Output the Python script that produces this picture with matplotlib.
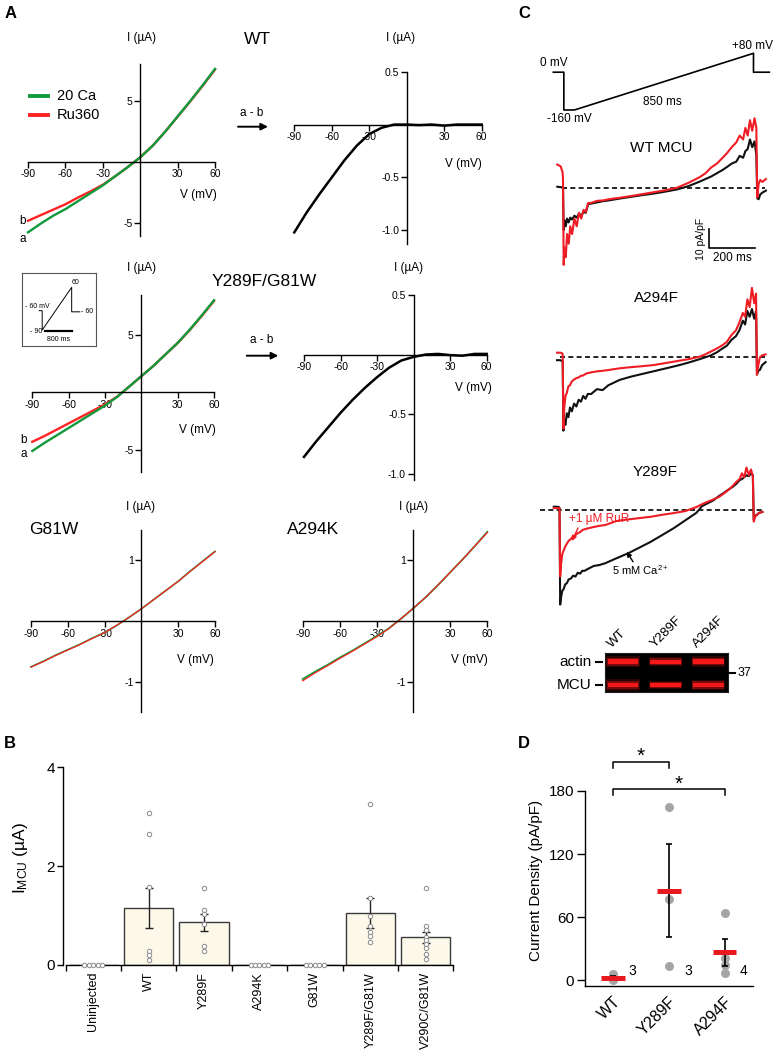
import numpy as np
import matplotlib
matplotlib.use('Agg')
import matplotlib.pyplot as plt
from matplotlib.lines import Line2D
from matplotlib.patches import Rectangle

plt.rcParams['font.family'] = ['Liberation Sans', 'DejaVu Sans']
plt.rcParams['axes.unicode_minus'] = False
plt.rcParams['mathtext.fontset'] = 'custom'
plt.rcParams['mathtext.rm'] = 'Liberation Sans'
plt.rcParams['mathtext.it'] = 'Liberation Sans:italic'
plt.rcParams['mathtext.bf'] = 'Liberation Sans:bold'

# ---------------- data : panel A (I-V ramps, µA) ----------------
V_mV = [-90, -80, -70, -60, -50, -40, -30, -20, -10, 0, 10, 20, 30, 40, 50, 60]
wt_ca = [-5.8, -5.1, -4.45, -3.9, -3.25, -2.6, -1.95, -1.2, -0.45, 0.35, 1.3, 2.45, 3.7, 4.95, 6.25, 7.6]
wt_ru = [-4.85, -4.4, -3.95, -3.5, -2.95, -2.45, -1.9, -1.2, -0.45, 0.35, 1.3, 2.45, 3.68, 4.92, 6.2, 7.55]
wt_diff = [-1.02, -0.83, -0.66, -0.5, -0.34, -0.2, -0.09, -0.03, 0.0, 0.0, -0.005, 0.0, -0.01, 0.0, 0.0, 0.0]
dbl_ca = [-5.1, -4.4, -3.75, -3.1, -2.45, -1.8, -1.15, -0.4, 0.5, 1.4, 2.3, 3.3, 4.3, 5.45, 6.7, 8.0]
dbl_ru = [-4.3, -3.8, -3.25, -2.7, -2.15, -1.6, -1.05, -0.38, 0.5, 1.4, 2.3, 3.3, 4.28, 5.42, 6.65, 7.95]
dbl_diff = [-0.86, -0.73, -0.61, -0.49, -0.38, -0.28, -0.19, -0.11, -0.05, -0.02, 0.0, 0.005, -0.005, -0.01, 0.005, 0.005]
g81w_ca = [-0.75, -0.66, -0.56, -0.47, -0.38, -0.28, -0.19, -0.07, 0.06, 0.2, 0.35, 0.5, 0.65, 0.82, 0.98, 1.14]
g81w_ru = [-0.755, -0.665, -0.565, -0.475, -0.385, -0.285, -0.19, -0.07, 0.06, 0.2, 0.35, 0.5, 0.65, 0.815, 0.975, 1.135]
a294k_ca = [-0.95, -0.83, -0.72, -0.6, -0.49, -0.37, -0.25, -0.12, 0.04, 0.21, 0.39, 0.59, 0.8, 1.01, 1.23, 1.46]
a294k_ru = [-0.98, -0.85, -0.735, -0.615, -0.5, -0.38, -0.26, -0.125, 0.04, 0.21, 0.39, 0.59, 0.8, 1.01, 1.23, 1.45]

# ---------------- data : panel B (I_MCU, µA) ----------------
b_categories = ['Uninjected', 'WT', 'Y289F', 'A294K', 'G81W', 'Y289F/G81W', 'V290C/G81W']
b_means = [0.01, 1.15, 0.86, 0.01, 0.01, 1.05, 0.56]
b_sem = [0.0, 0.41, 0.18, 0.0, 0.0, 0.31, 0.11]
b_points = [
    [0, 0, 0, 0, 0],
    [3.08, 2.65, 1.58, 0.28, 0.2, 0.1],
    [1.55, 1.11, 1.03, 0.83, 0.39, 0.29],
    [0, 0, 0, 0, 0],
    [0, 0, 0, 0, 0],
    [3.26, 1.35, 1.0, 0.78, 0.66, 0.58, 0.46],
    [1.55, 0.78, 0.71, 0.57, 0.51, 0.43, 0.34, 0.22, 0.12],
]

# ---------------- data : panel C (ramp protocol, whole-cell traces pA/pF) ----------------
prot_t = [-50, 0, 0, 50, 900, 900, 975]
prot_v = [0, 0, -160, -160, 80, 0, 0]
trace_t = [-25, -10, -2, 0, 3, 7, 12, 18, 25, 32, 40, 50, 60, 70, 80, 90, 100, 110,
           125, 150, 175, 200, 250, 300, 350, 400, 450, 500, 550, 600, 625, 650, 675, 700,
           720, 740, 760, 775, 790, 800, 810, 820, 830, 840, 848, 852, 858, 865, 875, 890]
wt_trace_ca = [0.5, 0.3, 0, 0, -22, -17, -20, -16, -18, -15.5, -16.5, -14.5, -15.5, -13.5, -14.5, -12.5, -13, -8.5,
               -8.2, -7.6, -7, -6.6, -5.6, -4.7, -3.8, -3, -2, -0.9, 0.8, 3.2, 4.5, 5.8, 7.5, 9.2,
               10.8, 12.5, 13.5, 16.5, 15.5, 19, 20, 25, 21, 24, 17, -5.5, -6, -3.5, -2.5, -1.5]
wt_trace_rur = [12, 11, 8, 5, -40, -31, -36, -24, -29, -20, -24, -16, -20, -13, -16, -11.5, -12.5, -8,
                -7.8, -6.8, -6.6, -6, -5.2, -4.3, -3.3, -2.3, -1.3, 0, 2.5, 5.5, 7.5, 10.5, 12.5, 15.5,
                18, 21, 23.5, 27, 25, 31, 27, 35, 29.5, 36, 31, -5, 2, 4, 3, 4.5]
a294f_trace_ca = [-1.5, -1.5, -2, -2, -38, -33, -35, -29, -31, -26, -28, -24, -25.5, -22, -23, -20, -21.5, -19,
                  -19, -16.5, -17, -14.5, -11.7, -10, -8.6, -7.2, -5.8, -4.4, -2.8, -1, 0, 1, 2.5, 4.5,
                  6, 9, 11, 14, 19, 17, 24, 21, 25, 20, 24, -9, -7, -6.5, -4, -2.5]
a294f_trace_rur = [2.4, 2.4, 2, 1.5, -37, -26, -20, -18.5, -15, -14.5, -12.5, -11.5, -10.8, -10.4, -9.6, -9.4, -8.6, -8.2,
                   -7.8, -7.3, -7, -6.6, -5.7, -5.1, -4.6, -4, -3, -2, -1, 0.3, 1.5, 3, 4.5, 6.2,
                   8, 11.5, 14, 18, 23, 21, 30, 26, 36, 28, 33, -9, -4, 0, 1, 1.5]
y289f_trace_ca = [1.7, 1.7, 1.5, 1, -49, -45, -42, -41, -38.5, -38, -36, -35.5, -34, -34.5, -32.5, -33, -31.5, -31.5,
                  -30.5, -29, -28.5, -27.6, -25, -22.5, -19.5, -16.5, -13, -9.5, -5.5, -1.5, 2, 3.5, 5, 7.3,
                  8.8, 10.5, 12, 13.5, 15.5, 16, 17, 18, 17.5, 19, 18, -5, -3, -2.6, -1.5, -1]
y289f_trace_rur = [1, 1, 1, 1, -34.5, -28, -23, -21, -19, -17.5, -16, -15, -13.5, -13, -12, -11.5, -10.4, -10,
                   -9.5, -8.8, -8.2, -7.8, -5.7, -4.9, -4.2, -3.5, -2.5, -1.6, -0.6, 1.5, 3, 4.3, 5.5, 6.8,
                   8.5, 10.3, 12.5, 14.5, 16, 19, 17, 22, 18, 21, 17.5, -6, -3.5, -2.6, -1.5, -1]
blot_lanes = ['WT', 'Y289F', 'A294F']
actin_intensity = [1.0, 0.85, 0.95]
mcu_intensity = [1.0, 0.7, 0.95]

# ---------------- data : panel D (current density, pA/pF) ----------------
d_groups = ['WT', 'Y289F', 'A294F']
d_wt = [6.0, 0.5, 0.0]
d_y289f = [165.0, 77.0, 13.0]
d_a294f = [64.0, 21.0, 14.0, 7.0]

# ---------------- figure helpers ----------------
W, H = 781, 1050
fig = plt.figure(figsize=(W / 100, H / 100), dpi=100)

GREEN = '#0f9a3c'
RED = '#ff2323'
TRED = '#ee1c24'


def axpx(x0, y0, x1, y1):
    return fig.add_axes([x0 / W, 1 - y1 / H, (x1 - x0) / W, (y1 - y0) / H])


def tpx(x, y, s, **kw):
    kw.setdefault('ha', 'center')
    kw.setdefault('va', 'center')
    return fig.text(x / W, 1 - y / H, s, **kw)


def lpx(xs, ys, **kw):
    fig.add_artist(Line2D([x / W for x in xs], [1 - y / H for y in ys],
                          transform=fig.transFigure, **kw))


def arrow_px(x0, y0, x1, y1, color='k', lw=1.4, ms=10):
    ax0 = fig.axes[0]
    ax0.annotate('', xy=(x1 / W, 1 - y1 / H), xytext=(x0 / W, 1 - y0 / H),
                 xycoords='figure fraction', textcoords='figure fraction',
                 arrowprops=dict(arrowstyle='-|>', color=color, lw=lw,
                                 mutation_scale=ms, shrinkA=0, shrinkB=0),
                 annotation_clip=False)


def iv_axes(box, ylim, yticks, ylabels):
    ax = axpx(*box)
    ax.set_xlim(-90, 60)
    ax.set_ylim(*ylim)
    ax.patch.set_visible(False)
    for s in ('top', 'right'):
        ax.spines[s].set_visible(False)
    ax.spines['left'].set_position(('data', 0))
    ax.spines['bottom'].set_position(('data', 0))
    for s in ('left', 'bottom'):
        ax.spines[s].set_linewidth(1.0)
    ax.set_xticks([-90, -60, -30, 30, 60])
    ax.set_xticklabels(['-90', '-60', '-30', '30', '60'])
    ax.set_yticks(yticks)
    ax.set_yticklabels(ylabels)
    ax.tick_params(direction='out', length=4, width=1.0, labelsize=7.5, pad=1.5)
    return ax


# ================= Panel A =================
# WT
ax = iv_axes((28, 64, 215, 236), (-6.1, 8.0), [5, -5], ['5', '-5'])
ax.plot(V_mV, wt_ru, color=RED, lw=1.7, clip_on=False)
ax.plot(V_mV, wt_ca, color=GREEN, lw=1.7, clip_on=False)
ax = iv_axes((294.3, 71.7, 481.7, 244), (-1.13, 0.5), [0.5, -0.5, -1.0], ['0.5', '-0.5', '-1.0'])
ax.plot(V_mV, wt_diff, color='k', lw=1.8, clip_on=False)

# Y289F/G81W
ax = iv_axes((32.3, 295, 214, 471.7), (-6.9, 8.46), [5, -5], ['5', '-5'])
ax.plot(V_mV, dbl_ru, color=RED, lw=1.7, clip_on=False)
ax.plot(V_mV, dbl_ca, color=GREEN, lw=1.7, clip_on=False)
ax = iv_axes((304, 295, 486.7, 479.5), (-1.05, 0.5), [0.5, -0.5, -1.0], ['0.5', '-0.5', '-1.0'])
ax.plot(V_mV, dbl_diff, color='k', lw=1.8, clip_on=False)

# G81W and A294K
ax = iv_axes((31, 530, 215, 712), (-1.49, 1.49), [1, -1], ['1', '-1'])
ax.plot(V_mV, g81w_ca, color=GREEN, lw=1.2, clip_on=False)
ax.plot(V_mV, g81w_ru, color=RED, lw=0.9, clip_on=False)
ax = iv_axes((302.7, 530, 487.3, 712), (-1.49, 1.49), [1, -1], ['1', '-1'])
ax.plot(V_mV, a294k_ca, color=GREEN, lw=1.3, clip_on=False)
ax.plot(V_mV, a294k_ru, color=RED, lw=0.9, clip_on=False)

# A texts
for (x, y) in [(142, 38), (401, 38), (142, 268), (409, 268), (141, 507), (414, 507)]:
    tpx(x, y, 'I (µA)', fontsize=8.5)
for (x, y) in [(198, 195), (463, 164), (197, 430), (473, 388), (195, 660), (469, 660)]:
    tpx(x, y, 'V (mV)', fontsize=8.5)
tpx(257, 40, 'WT', fontsize=12.5)
tpx(264, 282, 'Y289F/G81W', fontsize=12.5)
tpx(54, 529, 'G81W', fontsize=12.5)
tpx(313, 529, 'A294K', fontsize=12.5)
tpx(23, 221, 'b', fontsize=8.5)
tpx(23, 239, 'a', fontsize=8.5)
tpx(24, 440, 'b', fontsize=8.5)
tpx(24, 454, 'a', fontsize=8.5)
# legend
lpx([30, 48], [96, 96], color=GREEN, lw=2.8)
lpx([30, 48], [115, 115], color=RED, lw=2.8)
tpx(57, 96, '20 Ca', fontsize=10.5, ha='left')
tpx(57, 115, 'Ru360', fontsize=10.5, ha='left')
# a - b arrows
tpx(252, 113, 'a - b', fontsize=8.5)
arrow_px(238, 126.7, 268, 126.7)
tpx(262, 340, 'a - b', fontsize=8.5)
arrow_px(246.7, 355.7, 278.3, 355.7)

# inset protocol box
axi = axpx(22.3, 273.3, 96, 346)
axi.set_xlim(0, 1)
axi.set_ylim(0, 1)
axi.set_xticks([])
axi.set_yticks([])
for s in axi.spines.values():
    s.set_linewidth(0.8)
    s.set_color('#555555')
axi.plot([0.23, 0.27, 0.27, 0.67, 0.67, 0.78], [0.486, 0.486, 0.22, 0.807, 0.47, 0.47], color='k', lw=0.7)
axi.plot([0.31, 0.67], [0.21, 0.21], color='k', lw=1.6)
axi.text(0.04, 0.54, '- 60 mV', fontsize=5, ha='left', va='center')
axi.text(0.1, 0.2, '- 90', fontsize=5, ha='left', va='center')
axi.text(0.72, 0.88, '60', fontsize=5, ha='center', va='center')
axi.text(0.8, 0.47, '- 60', fontsize=5, ha='left', va='center')
axi.text(0.49, 0.09, '800 ms', fontsize=5, ha='center', va='center')

# ================= Panel B =================
axB = axpx(63.3, 767.3, 453.3, 965)
xb = np.arange(len(b_categories))
axB.bar(xb, b_means, width=0.89, color='#fdf9ea', edgecolor='#3a3a3a', linewidth=1.0, zorder=2)
axB.errorbar(xb, b_means, yerr=b_sem, fmt='none', ecolor='#222222', elinewidth=1.0,
             capsize=3, capthick=1.0, zorder=3)
for i, pts in enumerate(b_points):
    pts = np.array(pts, dtype=float)
    if np.all(pts == 0):
        xs = i + np.linspace(-0.16, 0.16, len(pts))
    else:
        xs = np.full(len(pts), float(i))
    axB.plot(xs, pts, 'o', ms=3.2, mfc='white', mec='#8a8a8a', mew=0.7, zorder=4, clip_on=False)
axB.set_xlim(-0.54, 6.5)
axB.set_ylim(0, 4)
axB.spines['top'].set_visible(False)
axB.spines['right'].set_visible(False)
axB.spines['bottom'].set_bounds(-0.5, 6.5)
axB.spines['left'].set_linewidth(1.0)
axB.spines['bottom'].set_linewidth(1.0)
axB.set_yticks([0, 2, 4])
axB.tick_params(axis='y', direction='out', length=4, width=1, labelsize=11, pad=2)
axB.set_xticks(np.arange(-0.5, 7.0, 1.0))
axB.set_xticklabels([])
axB.tick_params(axis='x', which='major', direction='out', length=4, width=1)
axB.set_xticks(xb, minor=True)
axB.set_xticklabels(b_categories, minor=True, rotation=90, fontsize=9)
axB.tick_params(axis='x', which='minor', length=0, pad=5)
tpx(20, 858, r'I$_{\rm MCU}$ (µA)', fontsize=12.5, rotation=90)

# ================= Panel C =================
axp = axpx(553.3, 53.3, 769.3, 110)
axp.set_xlim(-50, 975)
axp.set_ylim(-160, 80)
axp.plot(prot_t, prot_v, color='k', lw=1.2, clip_on=False)
axp.axis('off')
tpx(554, 63, '0 mV', fontsize=8.5)
tpx(569, 119, '-160 mV', fontsize=8.5)
tpx(752, 46, '+80 mV', fontsize=8.5)
tpx(662, 102, '850 ms', fontsize=8.5)

PX_MS = 0.228
PX_PA = 1.93


def trace_ax(t0px, base_px):
    a = axpx(530, base_px - 95, 775, base_px + 110)
    a.set_xlim((530 - t0px) / PX_MS, (775 - t0px) / PX_MS)
    a.set_ylim(-110 / PX_PA, 95 / PX_PA)
    a.axis('off')
    return a


axw = trace_ax(563, 187.7)
axw.plot([-6, 886], [0, 0], color='k', lw=1.2, ls=(0, (3, 2)))
axw.plot(trace_t, wt_trace_ca, color='#111111', lw=1.5)
axw.plot(trace_t, wt_trace_rur, color=TRED, lw=1.5)
# scale bar
axw.plot([641.7, 641.7, 841.7], [-21.4, -31.4, -31.4], color='k', lw=1.2, clip_on=False)
axw.text(605, -26.4, '10 pA/pF', rotation=90, fontsize=7.5, ha='center', va='center')
axw.text(741.7, -36.6, '200 ms', fontsize=8.5, ha='center', va='center')

axa = trace_ax(562.7, 357.3)
axa.plot([-12, 886], [0, 0], color='k', lw=1.2, ls=(0, (3, 2)))
axa.plot(trace_t, a294f_trace_ca, color='#111111', lw=1.5)
axa.plot(trace_t, a294f_trace_rur, color=TRED, lw=1.5)

axy = trace_ax(559.5, 510)
axy.plot([-85, 890], [0, 0], color='k', lw=1.2, ls=(0, (3, 2)))
axy.plot(trace_t, y289f_trace_ca, color='#111111', lw=1.5)
axy.plot(trace_t, y289f_trace_rur, color=TRED, lw=1.5)

tpx(661, 148, 'WT MCU', fontsize=11)
tpx(656, 298, 'A294F', fontsize=11)
tpx(655, 472, 'Y289F', fontsize=11)
tpx(599, 519, '+1 µM RuR', fontsize=8.5, color=TRED)
arrow_px(578, 528, 572, 541, color=TRED, lw=1.0, ms=7)
tpx(640, 570, r'5 mM Ca$^{2+}$', fontsize=8)
arrow_px(633, 561.7, 626.7, 551.7, color='k', lw=1.0, ms=7)

# western blot
axw2 = axpx(605, 653.3, 728.3, 692.3)
axw2.set_xlim(-0.419, 2.466)
axw2.set_ylim(0, 1)
axw2.set_facecolor('black')
axw2.set_xticks([])
axw2.set_yticks([])
for s in axw2.spines.values():
    s.set_color('#222222')
for i in range(len(blot_lanes)):
    for yc, inten in ((0.785, actin_intensity[i]), (0.187, mcu_intensity[i])):
        h = 0.075 * inten
        for k, (wf, hf, al) in enumerate([(1.0, 1.9, 0.18), (0.96, 1.35, 0.35), (0.92, 0.8, 0.95)]):
            hw = 0.39 * wf
            axw2.add_patch(Rectangle((i - hw, yc - h * hf), 2 * hw, 2 * h * hf,
                                     color='#ff1a1a', alpha=al, lw=0))
lane_px = [622.9, 665.4, 708.4]
for lbl, xc in zip(blot_lanes, lane_px):
    tpx(xc - 9, 650, lbl, fontsize=9.5, rotation=45, ha='left', va='bottom', rotation_mode='anchor')
tpx(592, 661.7, 'actin', fontsize=11, ha='right')
tpx(592, 685, 'MCU', fontsize=11, ha='right')
lpx([596, 602], [661.7, 661.7], color='k', lw=1.5)
lpx([596, 602], [685, 685], color='k', lw=1.5)
lpx([729, 735], [673.3, 673.3], color='k', lw=1.5)
tpx(738, 673.3, '37', fontsize=9, ha='left')

# ================= Panel D =================
axD = axpx(585, 791, 752.7, 986)
axD.set_xlim(-0.5, 2.5)
axD.set_ylim(-5.7, 180)
d_sets = [d_wt, d_y289f, d_a294f]
for i, pts in enumerate(d_sets):
    pts = np.array(pts)
    m = pts.mean()
    se = pts.std(ddof=1) / np.sqrt(len(pts))
    axD.plot(np.full(len(pts), i), pts, 'o', color='#a5a5a5', ms=6.5, mec='none', zorder=2, clip_on=False)
    axD.errorbar(i, m, yerr=se, fmt='none', ecolor='k', elinewidth=1.2, capsize=2.5, capthick=1.2, zorder=3)
    axD.hlines(m, i - 0.21, i + 0.21, color='#e8191f', lw=3.6, zorder=4)
    axD.text(i + 0.27, 9, str(len(pts)), fontsize=10, ha='left', va='center')
axD.spines['top'].set_visible(False)
axD.spines['right'].set_visible(False)
axD.spines['left'].set_linewidth(1.0)
axD.spines['bottom'].set_linewidth(1.0)
axD.set_yticks([0, 60, 120, 180])
axD.tick_params(axis='y', direction='out', length=6, width=1, labelsize=11, pad=2)
axD.set_xticks(range(len(d_groups)))
axD.set_xticklabels(d_groups, rotation=45, ha='right', rotation_mode='anchor', fontsize=11.5)
axD.tick_params(axis='x', length=0, pad=6)
# significance brackets
axD.plot([0, 0, 1, 1], [201.9, 207.9, 207.9, 201.9], color='k', lw=1.1, clip_on=False)
axD.plot([0, 0, 2, 2], [176.2, 181.9, 181.9, 176.2], color='k', lw=1.1, clip_on=False)
axD.text(0.5, 213, '*', fontsize=15, ha='center', va='center')
axD.text(1.17, 186, '*', fontsize=15, ha='center', va='center')
tpx(536, 880, 'Current Density (pA/pF)', fontsize=11, rotation=90)

# panel letters
tpx(11, 14, 'A', fontsize=12, fontweight='bold')
tpx(10, 744, 'B', fontsize=12, fontweight='bold')
tpx(524, 14, 'C', fontsize=12, fontweight='bold')
tpx(524, 744, 'D', fontsize=12, fontweight='bold')

fig.savefig('out.png', dpi=100)
